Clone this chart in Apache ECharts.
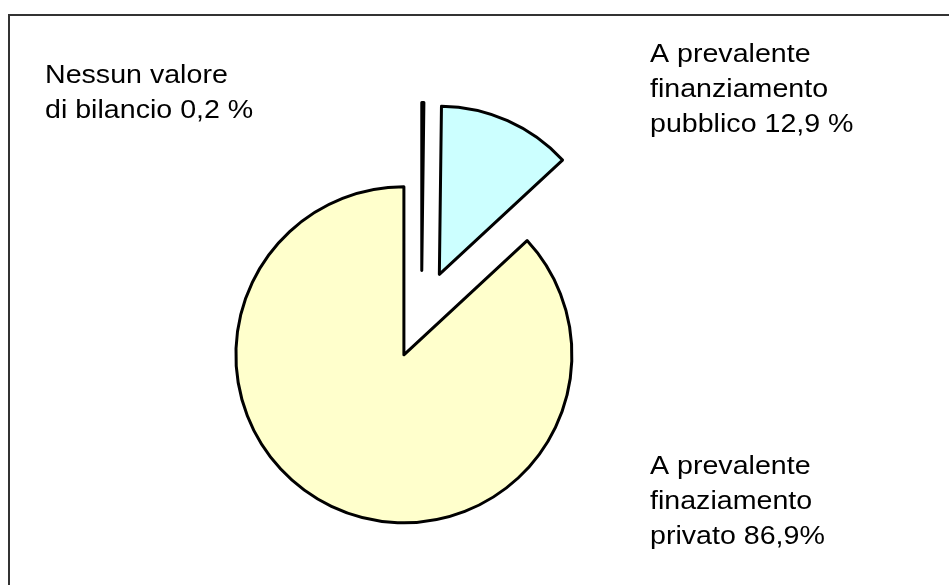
<!DOCTYPE html>
<html>
<head>
<meta charset="utf-8">
<script src="https://cdn.jsdelivr.net/npm/echarts@6/dist/echarts.min.js"></script>
<style>
html, body { margin: 0; padding: 0; background: #fff; }
#main { width: 949px; height: 585px; }
</style>
</head>
<body>
<div id="main"></div>
<script>
// dati della torta (in senso orario dalle ore 12)
var categories = ['Nessun valore di bilancio', 'A prevalente finanziamento pubblico', 'A prevalente finaziamento privato'];
var values = [0.2, 12.9, 86.9];
var colors = ['#9999ff', '#ccffff', '#ffffcc'];
// testi delle etichette come nel grafico originale
var labelTexts = [
    'Nessun valore\ndi bilancio 0,2 %',
    'A prevalente\nfinanziamento\npubblico 12,9 %',
    'A prevalente\nfinaziamento\nprivato 86,9%'
];
var labelPos = [[45, 58], [650, 37], [650, 449]];

var chart = echarts.init(document.getElementById('main'));

var pieData = categories.map(function (name, i) {
    return {
        name: name,
        value: values[i],
        selected: true,
        itemStyle: { color: colors[i] }
    };
});

var labels = labelTexts.map(function (t, i) {
    return {
        type: 'text',
        x: labelPos[i][0],
        y: labelPos[i][1],
        scaleX: 1.1,
        style: {
            text: t,
            x: 0,
            y: 0,
            fill: '#000',
            font: '26px "Liberation Sans", Arial, sans-serif',
            lineHeight: 35,
            textVerticalAlign: 'top'
        },
        silent: true
    };
});

var option = {
    backgroundColor: '#fff',
    animation: false,
    graphic: [{
        type: 'rect',
        shape: { x: 9, y: 15, width: 960, height: 600 },
        style: { fill: 'none', stroke: '#333', lineWidth: 2 },
        silent: true
    }].concat(labels),
    series: [{
        type: 'pie',
        center: [421.5, 314.5],
        radius: 168,
        startAngle: 90,
        clockwise: true,
        selectedMode: 'multiple',
        selectedOffset: 44,
        label: { show: false },
        labelLine: { show: false },
        emphasis: { disabled: true },
        itemStyle: { borderColor: '#000', borderWidth: 3 },
        data: pieData
    }]
};

chart.setOption(option);
</script>
</body>
</html>
